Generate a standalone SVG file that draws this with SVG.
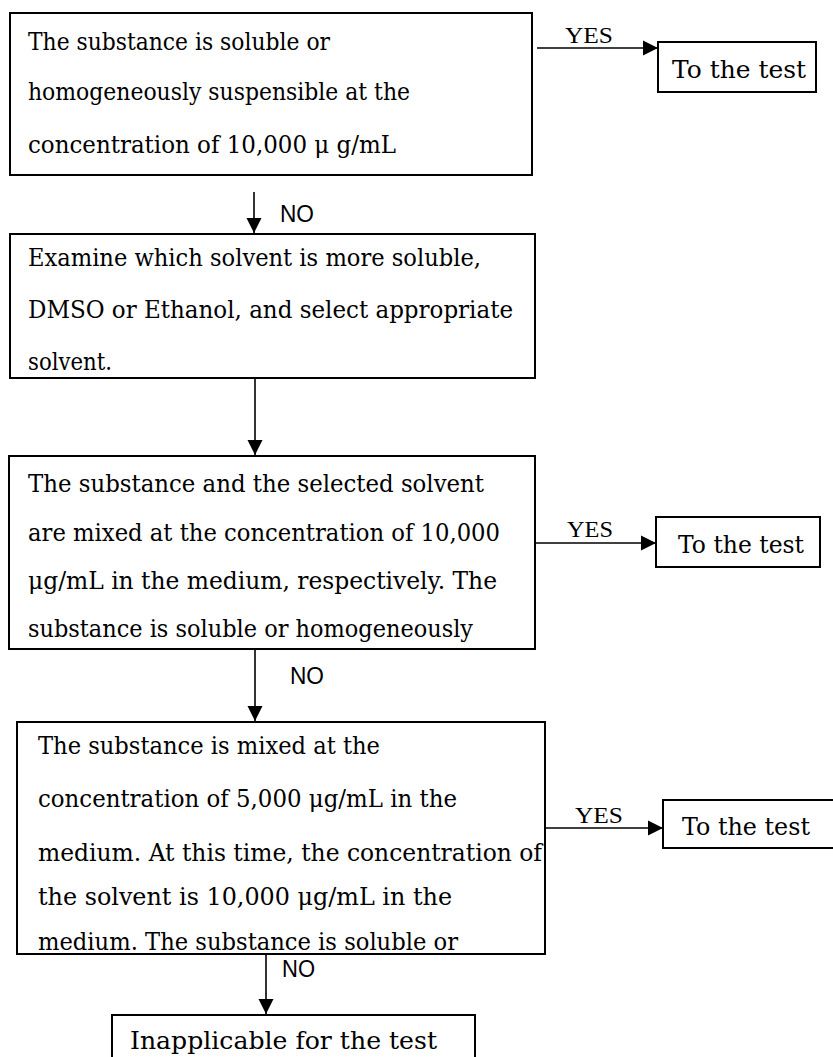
<svg xmlns="http://www.w3.org/2000/svg" width="833" height="1057" viewBox="0 0 833 1057">
<defs>
<marker id="ah" markerWidth="15" markerHeight="16" refX="15" refY="8" orient="auto" markerUnits="userSpaceOnUse">
<path d="M0,0.5 L15,8 L0,15.5 z" fill="#000"/>
</marker>
<style>
.box{fill:#fff;stroke:#000;stroke-width:2}
.t{font-family:"DejaVu Serif","Liberation Serif",serif;font-size:20.5px;fill:#000}
.tt{font-family:"DejaVu Serif","Liberation Serif",serif;font-size:21.5px;fill:#000}
.yes{font-family:"Liberation Serif","Times New Roman",serif;font-size:21px;fill:#000}
.no{font-family:"Liberation Sans",Arial,sans-serif;font-size:20px;fill:#000}
.c{stroke:#000;stroke-width:1.6;fill:none;marker-end:url(#ah)}
</style>
</defs>
<rect width="833" height="1057" fill="#fff"/>

<g id="connectors">
<line class="c" x1="537" y1="48" x2="658" y2="48"/>
<line class="c" x1="254" y1="192" x2="254" y2="233"/>
<line class="c" x1="255" y1="378" x2="255" y2="455"/>
<line class="c" x1="535" y1="543" x2="656" y2="543"/>
<line class="c" x1="255" y1="649" x2="255" y2="721"/>
<line class="c" x1="545" y1="828" x2="663" y2="828"/>
<line class="c" x1="266" y1="954" x2="266" y2="1014"/>
<text class="yes" transform="translate(565,43) scale(1,1.12)" textLength="48" lengthAdjust="spacingAndGlyphs">YES</text>
<text class="no" transform="translate(280,222) scale(1,1.15)" textLength="34" lengthAdjust="spacingAndGlyphs">NO</text>
<text class="yes" transform="translate(567,537) scale(1,1.12)" textLength="46" lengthAdjust="spacingAndGlyphs">YES</text>
<text class="no" transform="translate(290,684) scale(1,1.15)" textLength="34" lengthAdjust="spacingAndGlyphs">NO</text>
<text class="yes" transform="translate(575,823) scale(1,1.12)" textLength="48" lengthAdjust="spacingAndGlyphs">YES</text>
<text class="no" transform="translate(282,977) scale(1,1.15)" textLength="33" lengthAdjust="spacingAndGlyphs">NO</text>
</g>

<g id="node1">
<rect class="box" x="10" y="13" width="522" height="162"/>
<text class="t" transform="translate(28,50) scale(1,1.16)" textLength="302" lengthAdjust="spacingAndGlyphs">The substance is soluble or</text>
<text class="t" transform="translate(28,100) scale(1,1.16)" textLength="382" lengthAdjust="spacingAndGlyphs">homogeneously suspensible at the</text>
<text class="t" transform="translate(28,153) scale(1,1.16)" textLength="368" lengthAdjust="spacingAndGlyphs">concentration of 10,000 μ g/mL</text>
</g>

<g id="test1">
<rect class="box" x="658" y="42" width="158" height="50"/>
<text class="tt" transform="translate(672,78) scale(1,1.1)" textLength="134" lengthAdjust="spacingAndGlyphs">To the test</text>
</g>

<g id="node2">
<rect class="box" x="10" y="234" width="525" height="144"/>
<text class="t" transform="translate(28,266) scale(1,1.16)" textLength="453" lengthAdjust="spacingAndGlyphs">Examine which solvent is more soluble,</text>
<text class="t" transform="translate(28,318) scale(1,1.16)" textLength="485" lengthAdjust="spacingAndGlyphs">DMSO or Ethanol, and select appropriate</text>
<text class="t" transform="translate(28,370) scale(1,1.16)" textLength="84" lengthAdjust="spacingAndGlyphs">solvent.</text>
</g>

<g id="node3">
<rect class="box" x="9" y="456" width="526" height="193"/>
<text class="t" transform="translate(28,492) scale(1,1.16)" textLength="456" lengthAdjust="spacingAndGlyphs">The substance and the selected solvent</text>
<text class="t" transform="translate(28,541) scale(1,1.16)" textLength="472" lengthAdjust="spacingAndGlyphs">are mixed at the concentration of 10,000</text>
<text class="t" transform="translate(28,589) scale(1,1.16)" textLength="469" lengthAdjust="spacingAndGlyphs">μg/mL in the medium, respectively. The</text>
<text class="t" transform="translate(28,637) scale(1,1.16)" textLength="445" lengthAdjust="spacingAndGlyphs">substance is soluble or homogeneously</text>
</g>

<g id="test3">
<rect class="box" x="656" y="517" width="164" height="50"/>
<text class="tt" transform="translate(678,553) scale(1,1.1)" textLength="126" lengthAdjust="spacingAndGlyphs">To the test</text>
</g>

<g id="node4">
<rect class="box" x="17" y="722" width="528" height="232"/>
<text class="t" transform="translate(38,754) scale(1,1.16)" textLength="342" lengthAdjust="spacingAndGlyphs">The substance is mixed at the</text>
<text class="t" transform="translate(38,807) scale(1,1.16)" textLength="419" lengthAdjust="spacingAndGlyphs">concentration of 5,000 μg/mL in the</text>
<text class="t" transform="translate(38,861) scale(1,1.16)" textLength="504" lengthAdjust="spacingAndGlyphs">medium. At this time, the concentration of</text>
<text class="t" transform="translate(38,905) scale(1,1.16)" textLength="414" lengthAdjust="spacingAndGlyphs">the solvent is 10,000 μg/mL in the</text>
<text class="t" transform="translate(38,950) scale(1,1.16)" textLength="420" lengthAdjust="spacingAndGlyphs">medium. The substance is soluble or</text>
</g>

<g id="test4">
<rect class="box" x="663" y="800" width="180" height="48"/>
<text class="tt" transform="translate(682,835) scale(1,1.1)" textLength="128" lengthAdjust="spacingAndGlyphs">To the test</text>
</g>

<g id="node5">
<rect class="box" x="112" y="1015" width="363" height="60"/>
<text class="t" transform="translate(130,1049) scale(1,1.16)" textLength="307" lengthAdjust="spacingAndGlyphs">Inapplicable for the test</text>
</g>
</svg>
